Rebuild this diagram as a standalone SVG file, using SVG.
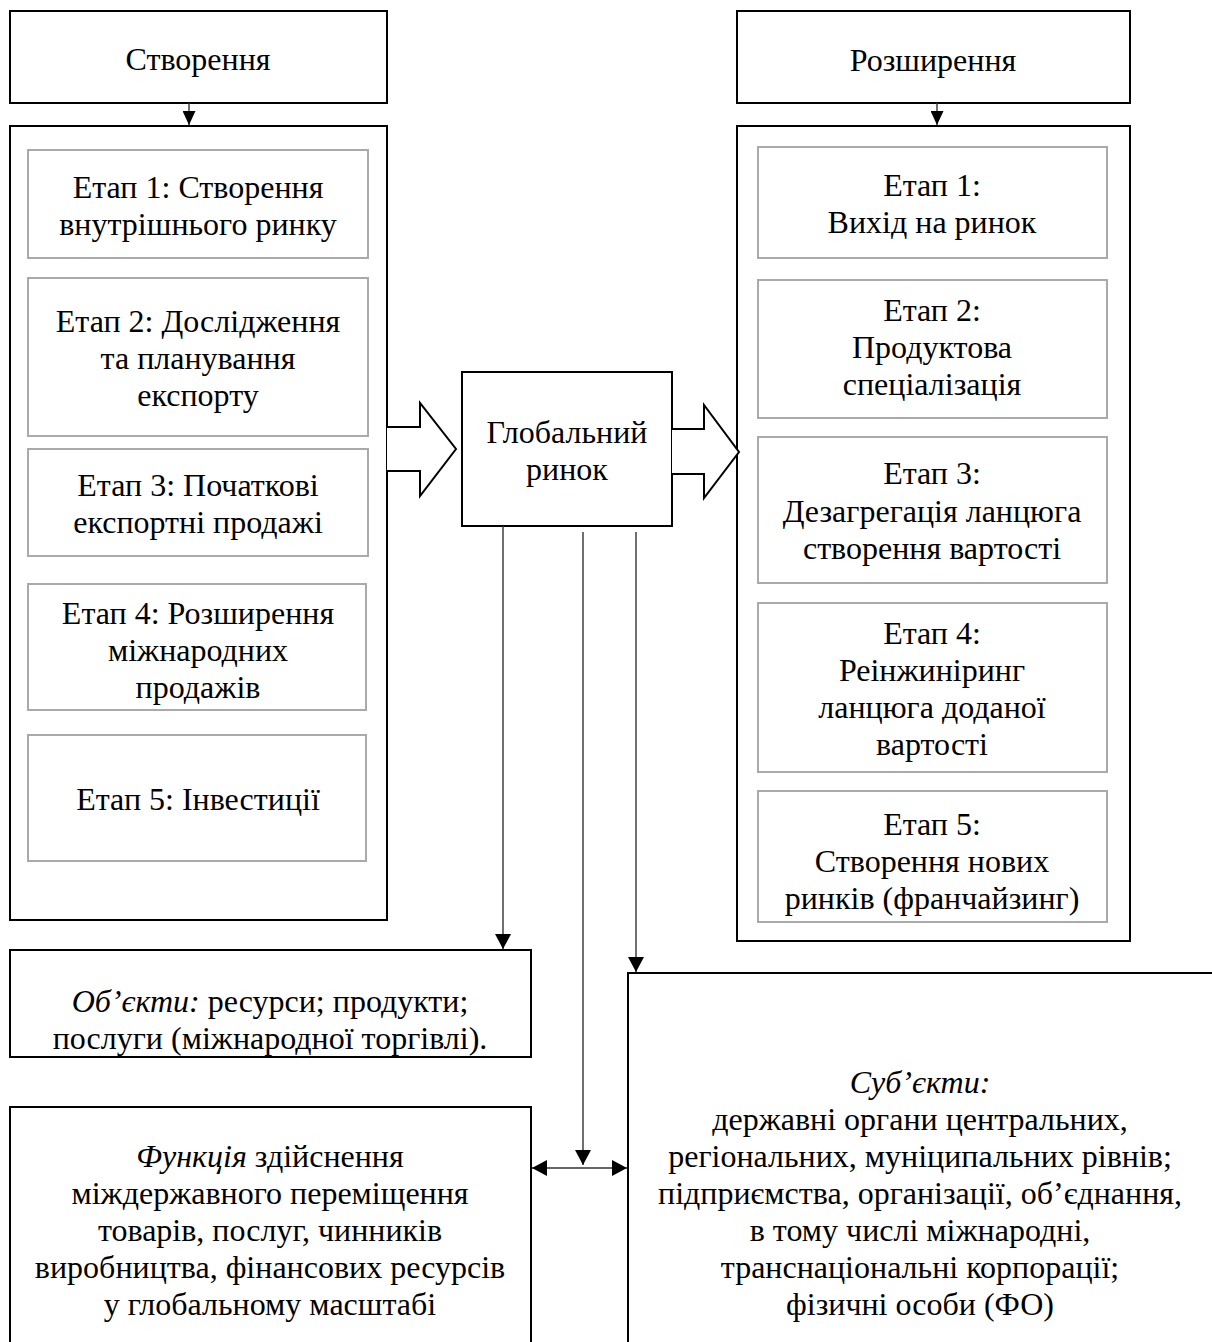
<svg xmlns="http://www.w3.org/2000/svg" width="1212" height="1342" viewBox="0 0 1212 1342">
<style>
text{font-family:"Liberation Serif","Times New Roman",serif;font-size:32px;fill:#000;text-anchor:middle}
.box{fill:#fff;stroke:#000;stroke-width:2}
.inner{fill:#fff;stroke:#aaa;stroke-width:2}
.ln{fill:none;stroke:#333;stroke-width:1.4}
.hollow{fill:#fff;stroke:#000;stroke-width:2;stroke-linejoin:miter}
.it{font-style:italic}
</style>
<defs>
<marker id="ah" viewBox="0 0 15 16" refX="15" refY="8" markerWidth="15" markerHeight="16" markerUnits="userSpaceOnUse" orient="auto-start-reverse">
<path d="M0,0 L15,8 L0,16 Z" fill="#000"/>
</marker>
<marker id="ahs" viewBox="0 0 14 13" refX="14" refY="6.5" markerWidth="14" markerHeight="13" markerUnits="userSpaceOnUse" orient="auto">
<path d="M0,0 L14,6.5 L0,13 Z" fill="#000"/>
</marker>
</defs>
<rect width="1212" height="1342" fill="#fff"/>

<g id="stvorennia">
<rect class="box" x="10" y="11" width="377" height="92"/>
<text x="198" y="70">Створення</text>
</g>
<g id="left-outer">
<rect class="box" x="10" y="126" width="377" height="794"/>
</g>
<g id="l1"><rect class="inner" x="28" y="150" width="340" height="108"/>
<text x="198" y="198">Етап 1: Створення</text><text x="198" y="235">внутрішнього ринку</text></g>
<g id="l2"><rect class="inner" x="28" y="278" width="340" height="158"/>
<text x="198" y="332">Етап 2: Дослідження</text><text x="198" y="369">та планування</text><text x="198" y="406">експорту</text></g>
<g id="l3"><rect class="inner" x="28" y="449" width="340" height="107"/>
<text x="198" y="496">Етап 3: Початкові</text><text x="198" y="533">експортні продажі</text></g>
<g id="l4"><rect class="inner" x="28" y="584" width="338" height="126"/>
<text x="198" y="624">Етап 4: Розширення</text><text x="198" y="661">міжнародних</text><text x="198" y="698">продажів</text></g>
<g id="l5"><rect class="inner" x="28" y="735" width="338" height="126"/>
<text x="198" y="810">Етап 5: Інвестиції</text></g>

<g id="rozshyrennia">
<rect class="box" x="737" y="11" width="393" height="92"/>
<text x="933" y="71">Розширення</text>
</g>
<g id="right-outer">
<rect class="box" x="737" y="126" width="393" height="815"/>
</g>
<g id="r1"><rect class="inner" x="758" y="147" width="349" height="111"/>
<text x="932" y="196">Етап 1:</text><text x="932" y="233">Вихід на ринок</text></g>
<g id="r2"><rect class="inner" x="758" y="280" width="349" height="138"/>
<text x="932" y="321">Етап 2:</text><text x="932" y="358">Продуктова</text><text x="932" y="395">спеціалізація</text></g>
<g id="r3"><rect class="inner" x="758" y="437" width="349" height="146"/>
<text x="932" y="484">Етап 3:</text><text x="932" y="522">Дезагрегація ланцюга</text><text x="932" y="559">створення вартості</text></g>
<g id="r4"><rect class="inner" x="758" y="603" width="349" height="169"/>
<text x="932" y="644">Етап 4:</text><text x="932" y="681">Реінжиніринг</text><text x="932" y="718">ланцюга доданої</text><text x="932" y="755">вартості</text></g>
<g id="r5"><rect class="inner" x="758" y="791" width="349" height="131"/>
<text x="932" y="835">Етап 5:</text><text x="932" y="872">Створення нових</text><text x="932" y="909">ринків (франчайзинг)</text></g>

<g id="global">
<rect class="box" x="462" y="372" width="210" height="154"/>
<text x="567" y="443">Глобальний</text><text x="567" y="480">ринок</text>
</g>

<g id="objects">
<rect class="box" x="10" y="950" width="521" height="107"/>
<text x="270" y="1012"><tspan class="it">Об’єкти:</tspan> ресурси; продукти;</text>
<text x="270" y="1049">послуги (міжнародної торгівлі).</text>
</g>

<g id="function">
<rect class="box" x="10" y="1107" width="521" height="250"/>
<text x="270" y="1167"><tspan class="it">Функція</tspan> здійснення</text>
<text x="270" y="1204">міждержавного переміщення</text>
<text x="270" y="1241">товарів, послуг, чинників</text>
<text x="270" y="1278">виробництва, фінансових ресурсів</text>
<text x="270" y="1315">у глобальному масштабі</text>
</g>

<g id="subjects">
<rect class="box" x="628" y="973" width="600" height="390"/>
<text x="920" y="1093" class="it">Суб’єкти:</text>
<text x="920" y="1130">державні органи центральних,</text>
<text x="920" y="1167">регіональних, муніципальних рівнів;</text>
<text x="920" y="1204">підприємства, організації, об’єднання,</text>
<text x="920" y="1241">в тому числі міжнародні,</text>
<text x="920" y="1278">транснаціональні корпорації;</text>
<text x="920" y="1315">фізичні особи (ФО)</text>
</g>

<g id="connectors">
<line class="ln" x1="189" y1="103" x2="189" y2="125" marker-end="url(#ahs)"/>
<line class="ln" x1="937" y1="103" x2="937" y2="125" marker-end="url(#ahs)"/>
<path class="hollow" d="M387,427 L420,427 L420,403 L456,449 L420,496 L420,471 L387,471"/>
<path class="hollow" d="M672,429 L704,429 L704,405 L739,452 L704,498 L704,474 L672,474"/>
<line class="ln" x1="503" y1="526" x2="503" y2="949" marker-end="url(#ah)"/>
<line class="ln" x1="583" y1="532" x2="583" y2="1165" marker-end="url(#ah)"/>
<line class="ln" x1="636" y1="532" x2="636" y2="972" marker-end="url(#ah)"/>
<line class="ln" x1="532" y1="1168" x2="627" y2="1168" marker-start="url(#ah)" marker-end="url(#ah)"/>
</g>
</svg>
